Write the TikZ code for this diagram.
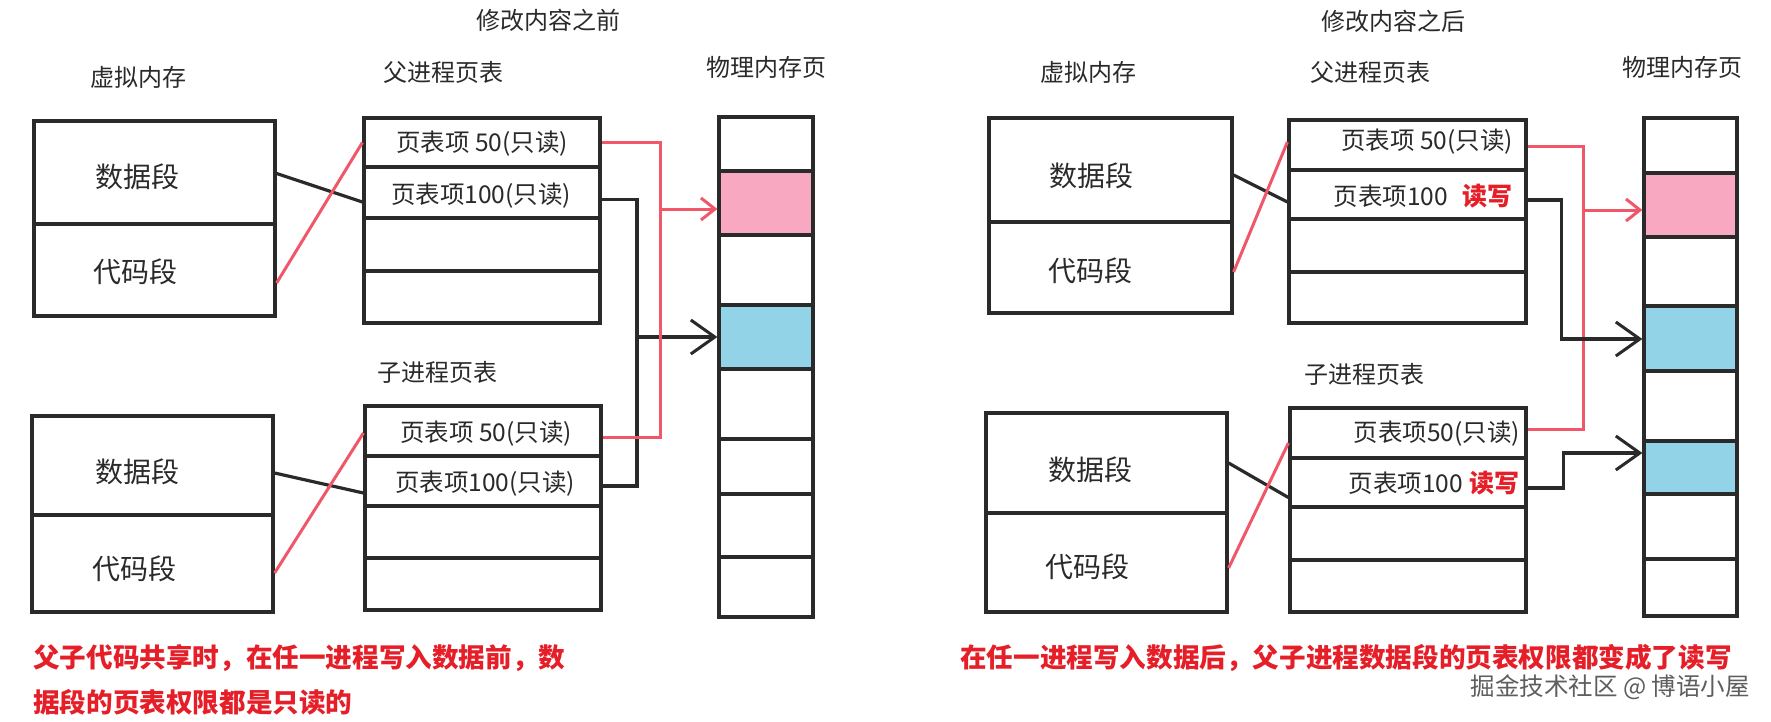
\documentclass[tikz,border=0pt]{standalone}
\usepackage{fontspec}
\setmainfont{Noto Sans CJK SC}
\usetikzlibrary{arrows.meta,calc}
\definecolor{ink}{HTML}{2A2A2A}
\definecolor{redline}{HTML}{F0586A}
\definecolor{pinkfill}{HTML}{F8A8C1}
\definecolor{bluefill}{HTML}{93D3E7}
\definecolor{capred}{HTML}{E61E28}
\definecolor{wmgray}{HTML}{5E5E5E}
\begin{document}
\begin{tikzpicture}[x=1pt,y=-1pt,
  box/.style={draw=ink,line width=3.2pt,inner sep=0pt,fill=white},
  hd/.style={font=\fontsize{24}{28}\selectfont,text=ink,inner sep=0pt},
  seg/.style={font=\fontsize{28}{32}\selectfont,text=ink,inner sep=0pt},
  ent/.style={font=\fontsize{24.5}{27}\selectfont,text=ink,inner sep=0pt},
  rw/.style={font=\bfseries\fontsize{25}{27}\selectfont,text=capred,inner sep=0pt},
  captxt/.style={font=\bfseries\fontsize{26.6}{30}\selectfont,text=capred,inner sep=0pt,anchor=west},
  conn/.style={draw=ink,line width=3.2pt},
  rconn/.style={draw=redline,line width=3pt},
  btip/.style={-{Straight Barb[length=24pt,width=34pt,line width=3pt]}},
  rtip/.style={-{Straight Barb[length=14pt,width=22pt,line width=3pt]}}]
\useasboundingbox (0,0) rectangle (1771,722);
\fill[white] (0,0) rectangle (1771,722);

% ================= LEFT PANEL =================
\node[hd] (titleL) at (548,20) {修改内容之前};
\node[hd] (vmtL) at (138,77) {虚拟内存};
\node[hd] (pttL) at (443,72) {父进程页表};
\node[hd] (phtL) at (766,67) {物理内存页};
\node[hd] (cttL) at (437,372) {子进程页表};

% virtual memory boxes
\node[box,minimum width=241pt,minimum height=103pt] (vl1a) at (154.5,172.5) {};
\node[box,minimum width=241pt,minimum height=92pt] (vl1b) at (154.5,270) {};
\node[seg] (sl1a) at (137,177) {数据段};
\node[seg] (sl1b) at (135,272) {代码段};
\node[box,minimum width=241pt,minimum height=99pt] (vl2a) at (152.5,465.5) {};
\node[box,minimum width=241pt,minimum height=97pt] (vl2b) at (152.5,563.5) {};
\node[seg] (sl2a) at (137,472) {数据段};
\node[seg] (sl2b) at (134,569) {代码段};

% parent table
\node[box,minimum width=236pt,minimum height=49pt] (pl1) at (482,142.5) {};
\node[box,minimum width=236pt,minimum height=51pt] (pl2) at (482,192.5) {};
\node[box,minimum width=236pt,minimum height=53pt] (pl3) at (482,244.5) {};
\node[box,minimum width=236pt,minimum height=52pt] (pl4) at (482,297) {};
\node[ent] (tpl1) at (482,144) {页表项 50(只读)};
\node[ent] (tpl2) at (481,196) {页表项100(只读)};

% child table
\node[box,minimum width=236pt,minimum height=50pt] (cl1) at (483,431) {};
\node[box,minimum width=236pt,minimum height=50pt] (cl2) at (483,481) {};
\node[box,minimum width=236pt,minimum height=52pt] (cl3) at (483,532) {};
\node[box,minimum width=236pt,minimum height=52pt] (cl4) at (483,584) {};
\node[ent] (tcl1) at (486,434) {页表项 50(只读)};
\node[ent] (tcl2) at (485,484) {页表项100(只读)};

% physical memory
\node[box,minimum width=94pt,minimum height=54pt] (qL1) at (766,144) {};
\node[box,fill=pinkfill,minimum width=94pt,minimum height=64pt] (qL2) at (766,203) {};
\node[box,minimum width=94pt,minimum height=70pt] (qL3) at (766,270) {};
\node[box,fill=bluefill,minimum width=94pt,minimum height=64pt] (qL4) at (766,337) {};
\node[box,minimum width=94pt,minimum height=70pt] (qL5) at (766,404) {};
\node[box,minimum width=94pt,minimum height=55pt] (qL6) at (766,466.5) {};
\node[box,minimum width=94pt,minimum height=63pt] (qL7) at (766,525.5) {};
\node[box,minimum width=94pt,minimum height=60pt] (qL8) at (766,587) {};

% connectors
\draw[conn] ([yshift=-1pt]vl1a.east) -- ([yshift=-9.5pt]pl2.west);
\draw[rconn] ([yshift=-13pt]vl1b.east) -- (pl1.west);
\draw[conn] ([yshift=-7.5pt]vl2a.east) -- ([yshift=-12pt]cl2.west);
\draw[rconn] ([yshift=-9.5pt]vl2b.east) -- ([yshift=-2pt]cl1.west);

\coordinate (rjL) at (660,209);
\coordinate (bjL) at (637,337);
\draw[conn] ([yshift=-7pt]pl2.east) -| (bjL) |- ([yshift=-5pt]cl2.east);
\draw[conn,btip] (bjL) -- (qL4.west);
\draw[rconn] (pl1.east) -| (rjL) |- ([yshift=-6pt]cl1.east);
\draw[rconn,rtip] (rjL) -- (rjL -| qL2.west);

% caption
\node[captxt] (capL1) at (33,658) {父子代码共享时，在任一进程写入数据前，数};
\node[captxt] (capL2) at (33,702) {据段的页表权限都是只读的};

% ================= RIGHT PANEL =================
\node[hd] (titleR) at (1393,21) {修改内容之后};
\node[hd] (vmtR) at (1088,72) {虚拟内存};
\node[hd] (pttR) at (1370,72) {父进程页表};
\node[hd] (phtR) at (1682,67) {物理内存页};
\node[hd] (cttR) at (1364,374) {子进程页表};

\node[box,minimum width=243pt,minimum height=104pt] (vr1a) at (1110.5,170) {};
\node[box,minimum width=243pt,minimum height=91pt] (vr1b) at (1110.5,267.5) {};
\node[seg] (sr1a) at (1091,176) {数据段};
\node[seg] (sr1b) at (1090,271) {代码段};
\node[box,minimum width=241pt,minimum height=100pt] (vr2a) at (1106.5,463) {};
\node[box,minimum width=241pt,minimum height=99pt] (vr2b) at (1106.5,562.5) {};
\node[seg] (sr2a) at (1090,470) {数据段};
\node[seg] (sr2b) at (1087,567) {代码段};

% parent table right
\node[box,minimum width=237pt,minimum height=50pt] (pr1) at (1407.5,145) {};
\node[box,minimum width=237pt,minimum height=49pt] (pr2) at (1407.5,194.5) {};
\node[box,minimum width=237pt,minimum height=53pt] (pr3) at (1407.5,245.5) {};
\node[box,minimum width=237pt,minimum height=51pt] (pr4) at (1407.5,297.5) {};
\node[ent,anchor=east] (tpr1) at (1513,142) {页表项 50(只读)};
\node[rw,anchor=east] (wpr2) at (1513,196) {读写};
\node[ent,anchor=east] (tpr2) at (1448,196) {页表项100};

% child table right
\node[box,minimum width=236pt,minimum height=50pt] (cr1) at (1408,433) {};
\node[box,minimum width=236pt,minimum height=49pt] (cr2) at (1408,482.5) {};
\node[box,minimum width=236pt,minimum height=53pt] (cr3) at (1408,533.5) {};
\node[box,minimum width=236pt,minimum height=52pt] (cr4) at (1408,586) {};
\node[ent,anchor=east] (tcr1) at (1520,434) {页表项50(只读)};
\node[rw,anchor=east] (wcr2) at (1520,483) {读写};
\node[ent,anchor=east] (tcr2) at (1463,483) {页表项100};

% physical memory right
\node[box,minimum width=93pt,minimum height=55pt] (qR1) at (1690.5,145.5) {};
\node[box,fill=pinkfill,minimum width=93pt,minimum height=64pt] (qR2) at (1690.5,205) {};
\node[box,minimum width=93pt,minimum height=69pt] (qR3) at (1690.5,271.5) {};
\node[box,fill=bluefill,minimum width=93pt,minimum height=65pt] (qR4) at (1690.5,338.5) {};
\node[box,minimum width=93pt,minimum height=70pt] (qR5) at (1690.5,406) {};
\node[box,fill=bluefill,minimum width=93pt,minimum height=53pt] (qR6) at (1690.5,467.5) {};
\node[box,minimum width=93pt,minimum height=65pt] (qR7) at (1690.5,526.5) {};
\node[box,minimum width=93pt,minimum height=57pt] (qR8) at (1690.5,587.5) {};

% connectors right
\draw[conn] ([yshift=-5pt]vr1a.east) -- ([yshift=-7.5pt]pr2.west);
\draw[rconn] ([yshift=-4.5pt]vr1b.east) -- ([yshift=3pt]pr1.west);
\draw[conn] (vr2a.east) -- ([yshift=-15pt]cr2.west);
\draw[rconn] ([yshift=-5.5pt]vr2b.east) -- ([yshift=-10pt]cr1.west);

\coordinate (rjR) at (1583,210);
\draw[rconn] ([yshift=-2pt]pr1.east) -| (rjR) |- ([yshift=4pt]cr1.east);
\draw[rconn,rtip] (rjR) -- (rjR -| qR2.west);
\draw[conn,btip] ([yshift=-5.5pt]pr2.east) -- ++(34,0) |- ([yshift=-0.5pt]qR4.west);
\draw[conn,btip] ([yshift=-5.5pt]cr2.east) -- ++(36,0) |- ([yshift=14.5pt]qR6.west);

% caption right
\node[captxt] (capR) at (960,658) {在任一进程写入数据后，父子进程数据段的页表权限都变成了读写};
\node[font=\fontsize{24.5}{28}\selectfont,text=wmgray,inner sep=0pt,anchor=east] (wm) at (1750,687) {掘金技术社区 @ 博语小屋};
\end{tikzpicture}
\end{document}
